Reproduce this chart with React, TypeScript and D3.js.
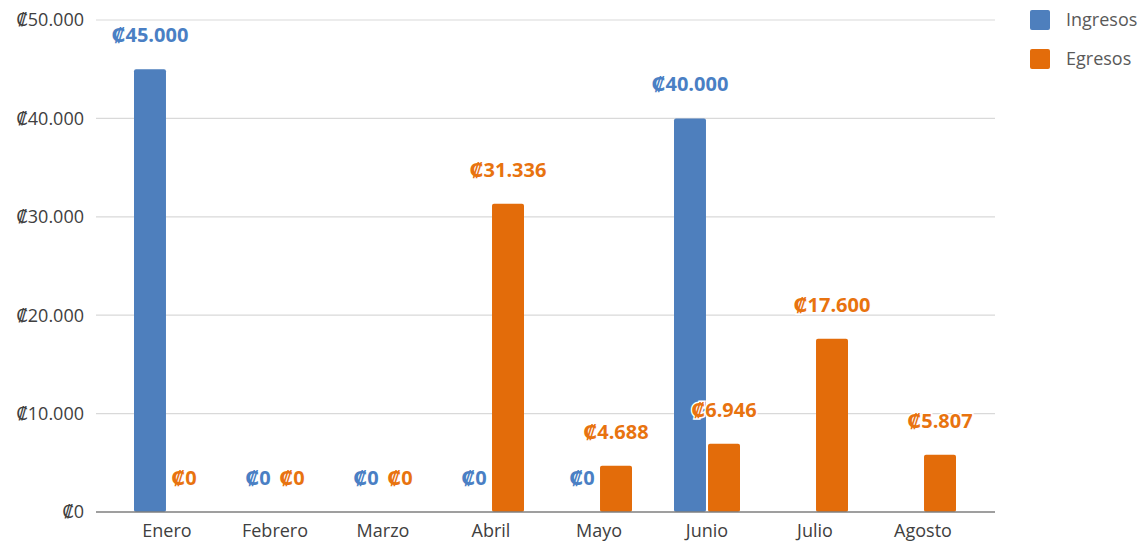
import React from "react";
import * as d3 from "d3";

const months = ["Enero", "Febrero", "Marzo", "Abril", "Mayo", "Junio", "Julio", "Agosto"];
const series = ["Ingresos", "Egresos"];
const ingresos = [45000, 0, 0, 0, 0, 40000, null, null];
const egresos = [0, 0, 0, 31336, 4688, 6946, 17600, 5807];
const yTicks = [0, 10000, 20000, 30000, 40000, 50000];
const colors = ["#4e7fbd", "#e36c0a"];
const labelColors = ["#4a7fc4", "#e8730f"];

const W = 1144, H = 543;
const FONT = "'Open Sans', 'DejaVu Sans', sans-serif";

const fmt = (v: number) => "₡" + d3.format(",")(v).replace(/,/g, ".");

export default function App() {
  const x0 = d3.scaleBand<string>().domain(months).range([113, 977]).padding(0);
  const x1 = d3.scaleBand<string>().domain(series).range([0, 66]).paddingInner(0.06);
  const y = d3.scaleLinear().domain([0, 50000]).range([512, 20]);
  const data = [ingresos, egresos];
  const off = (x0.bandwidth() - 66) / 2;

  return (
    <svg width={W} height={H} style={{ position: "absolute", left: 0, top: 0, background: "#fff" }} fontFamily={FONT}>
      {yTicks.map((t) => (
        <g key={t}>
          {t !== 0 && <line x1={96} x2={995} y1={y(t)} y2={y(t)} stroke="#d9d9d9" strokeWidth={1.2} />}
          <text x={84} y={y(t)} dy="0.35em" textAnchor="end" fontSize={18} fill="#404040">
            {fmt(t)}
          </text>
        </g>
      ))}
      {series.map((s, si) =>
        months.map((m, mi) => {
          const v = data[si][mi];
          if (v === null || v === 0) return null;
          const bx = (x0(m) as number) + off + (x1(s) as number);
          return (
            <rect key={s + m} x={bx} y={y(v)} width={x1.bandwidth()} height={y(0) - y(v)} fill={colors[si]} rx={2} />
          );
        })
      )}
      <line x1={96} x2={995} y1={y(0)} y2={y(0)} stroke="#7f7f7f" strokeWidth={1.5} />
      {series.map((s, si) =>
        months.map((m, mi) => {
          const v = data[si][mi];
          if (v === null) return null;
          const cx = (x0(m) as number) + off + (x1(s) as number) + x1.bandwidth() / 2;
          return (
            <text
              key={"l" + s + m}
              x={cx}
              y={y(v) - 34}
              dy="0.35em"
              textAnchor="middle"
              fontSize={20}
              fontWeight="bold"
              fill={labelColors[si]}
              stroke="#fff"
              strokeWidth={3}
              paintOrder="stroke"
            >
              {fmt(v)}
            </text>
          );
        })
      )}
      {months.map((m) => (
        <text key={"x" + m} x={(x0(m) as number) + x0.bandwidth() / 2} y={531} dy="0.35em" textAnchor="middle" fontSize={18} fill="#404040">
          {m}
        </text>
      ))}
      {series.map((s, si) => (
        <g key={"lg" + s}>
          <rect x={1030} y={10 + si * 39} width={20} height={20} rx={2} fill={colors[si]} />
          <text x={1066} y={20 + si * 39} dy="0.35em" fontSize={18} fill="#595959">
            {s}
          </text>
        </g>
      ))}
    </svg>
  );
}
